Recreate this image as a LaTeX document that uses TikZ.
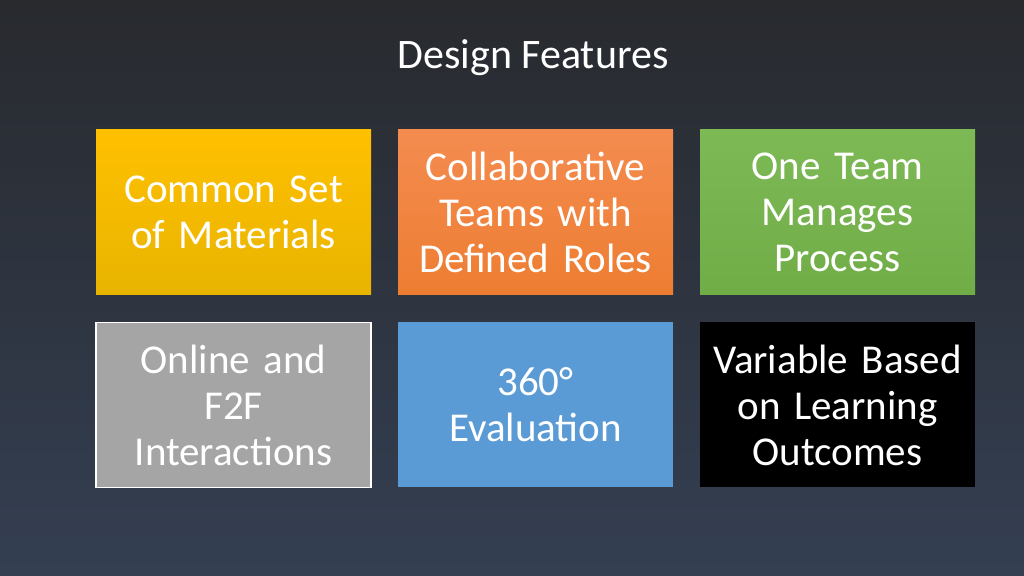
\documentclass[tikz,border=0pt]{standalone}
\usepackage{fontspec}
\setmainfont{Carlito}
\definecolor{feat_yellow}{RGB}{255, 192, 0}
\definecolor{feat_yellowdk}{RGB}{232, 180, 0}
\definecolor{feat_orange}{RGB}{237, 125, 49}
\definecolor{feat_orangelt}{RGB}{244, 140, 80}
\definecolor{feat_green}{RGB}{112, 173, 71}
\definecolor{feat_greenlt}{RGB}{125, 185, 85}
\definecolor{feat_gray}{RGB}{165, 165, 165}
\definecolor{feat_blue}{RGB}{91, 155, 213}
\definecolor{bg_top}{RGB}{40, 42, 46}
\definecolor{bg_mid}{RGB}{78, 96, 122}
\definecolor{bg_bot}{RGB}{52, 63, 82}
\begin{document}
\begin{tikzpicture}[x=0.5pt, y=-0.5pt,
    every node/.style={font=\fontsize{20.5}{23}\selectfont, text=white},
    box/.style={minimum width=137.5pt, minimum height=82.5pt, text width=134pt, align=center, inner sep=0pt},
  ]
  \shade[top color=bg_top, middle color=bg_mid, bottom color=bg_bot] (0,0) rectangle (1024,576);
  \useasboundingbox (0,0) rectangle (1024,576);

  \node[font=\fontsize{21}{24}\selectfont] (title) at (533,58) {Design Features};

  \node[box, top color=feat_yellow, bottom color=feat_yellowdk] (mat) at (233.5,212.5) {Common Set\\of Materials};
  \node[box, top color=feat_orangelt, bottom color=feat_orange] (team) at (535.5,212.5) {Collaborative\\Teams with\\Defined Roles};
  \node[box, top color=feat_greenlt, bottom color=feat_green] (proc) at (837.5,212.5) {One Team\\Manages\\Process};
  \node[box, fill=feat_gray, draw=white, line width=0.6pt] (f2f) at (233.5,405) {Online and\\F2F\\Interactions};
  \node[box, fill=feat_blue] (eval) at (535.5,405) {360°\\Evaluation};
  \node[box, fill=black] (var) at (837.5,405) {Variable Based\\on Learning\\Outcomes};
\end{tikzpicture}
\end{document}
